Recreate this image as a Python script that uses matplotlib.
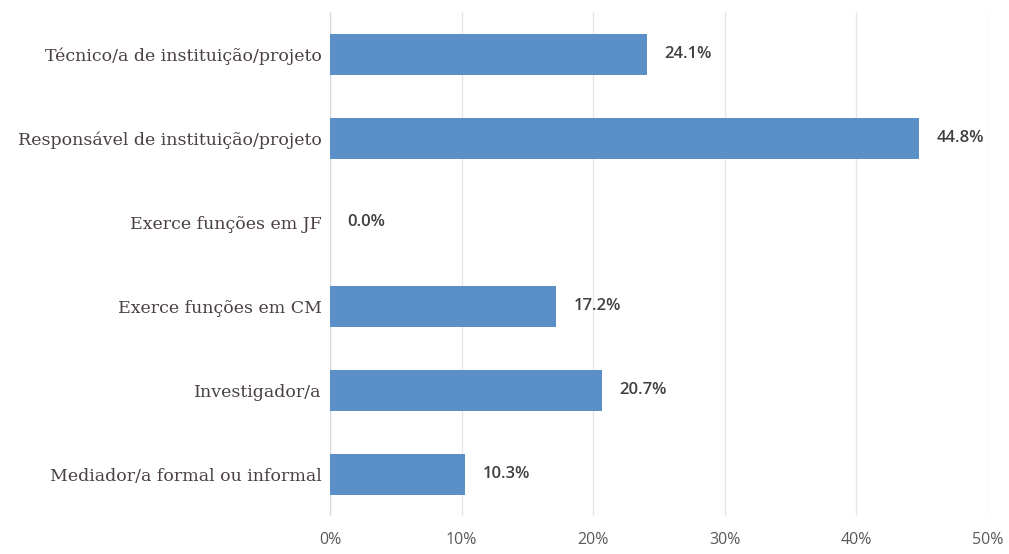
import matplotlib
matplotlib.use("Agg")
import matplotlib.pyplot as plt
import numpy as np

categories = ["Técnico/a de instituição/projeto",
              "Responsável de instituição/projeto",
              "Exerce funções em JF",
              "Exerce funções em CM",
              "Investigador/a",
              "Mediador/a formal ou informal"]
values = [24.1, 44.8, 0.0, 17.2, 20.7, 10.3]
ticks = [0, 10, 20, 30, 40, 50]

fig = plt.figure(figsize=(10.09, 5.54), dpi=100)
ax = fig.add_axes([0.327, 0.068, 0.652, 0.910])

y = np.arange(len(categories))
ax.barh(y, values, height=0.49, color="#5b8fc8", zorder=3)
ax.set_ylim(len(categories) - 0.5, -0.5)
ax.set_xlim(0, 50)

for yi, v in zip(y, values):
    ax.text(v + 1.3, yi, f"{v:.1f}%", va="center", ha="left",
            fontsize=12, color="#404040", family="Open Sans", fontweight="semibold")

ax.set_yticks(y)
ax.set_yticklabels(categories, family="DejaVu Serif", fontsize=12.5, color="#4a4040")
ax.set_xticks(ticks)
ax.set_xticklabels([f"{t}%" for t in ticks], family="Open Sans", fontsize=11.5, color="#595959")
ax.tick_params(axis="both", length=0)
ax.tick_params(axis="y", pad=6)
ax.tick_params(axis="x", pad=11)
ax.xaxis.grid(True, color="#e6e6e6", linewidth=1, zorder=0)
for s in ax.spines.values():
    s.set_visible(False)
ax.axvline(0, color="#d9d9d9", linewidth=1, zorder=2)

fig.savefig("out.png", dpi=100)
